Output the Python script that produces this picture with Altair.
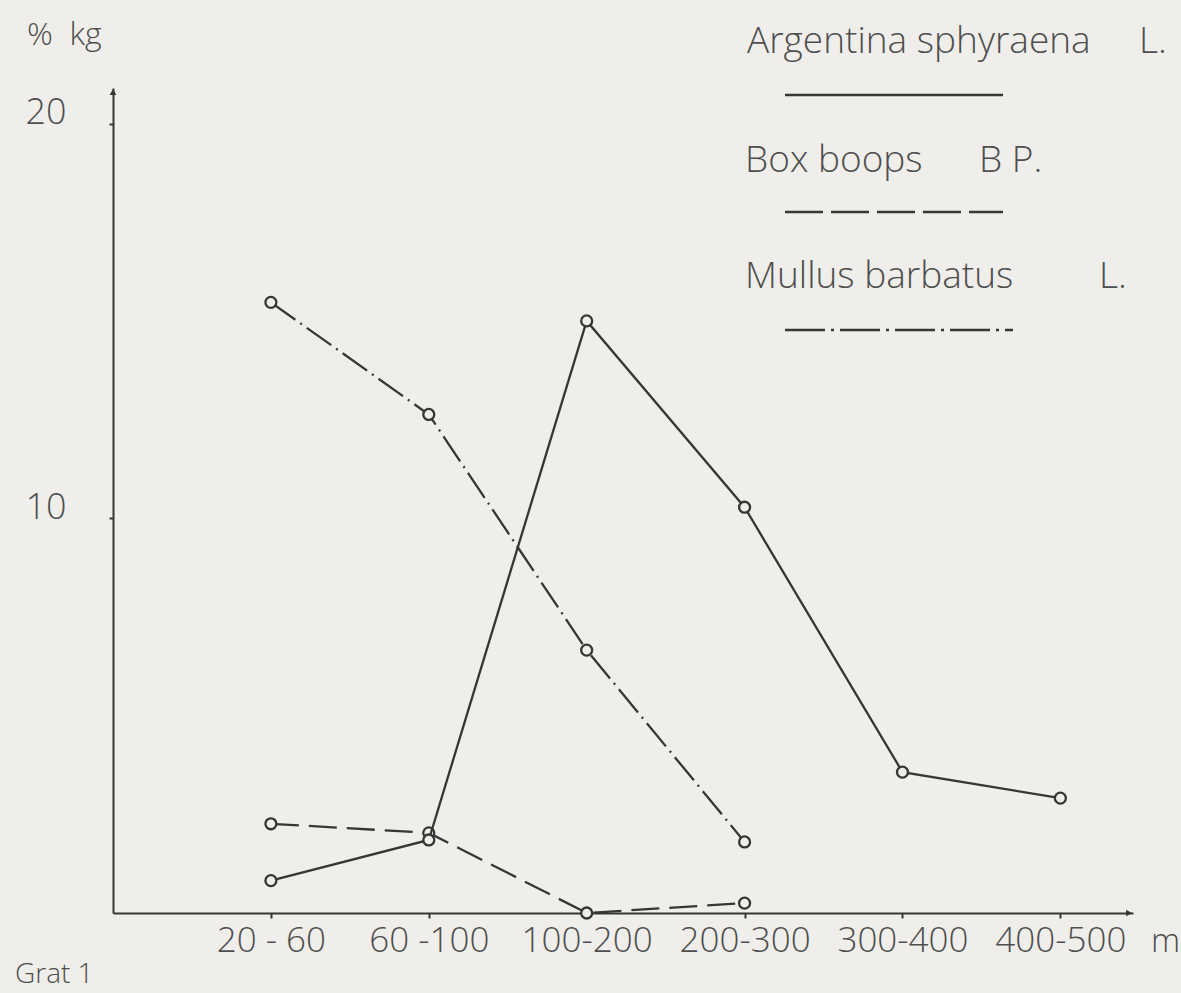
import json
import altair as alt
import pandas as pd

# ---- data ----
depth_labels = ["20 - 60", "60 -100", "100-200", "200-300", "300-400", "400-500"]
depth_pos = [1, 2, 3, 4, 5, 6]

argentina = [0.82, 1.85, 15.0, 10.28, 3.57, 2.91]
box_boops = [2.26, 2.03, 0.0, 0.25]
mullus = [15.47, 12.63, 6.66, 1.80]

NB = "\u00a0"
series_species = ["Argentina sphyraena", "Box boops", "Mullus barbatus"]
series_authors = ["L.", "B P.", "L."]
y_ticks = [10, 20]

BG = "#efeeea"
INK = "#363636"
TXT = "#4e4e4e"
FONT = "Open Sans"


def frame(values, name):
    return pd.DataFrame({
        "pos": depth_pos[:len(values)],
        "depth": depth_labels[:len(values)],
        "value": values,
        "series": name,
    })


df_a = frame(argentina, series_species[0])
df_b = frame(box_boops, series_species[1])
df_m = frame(mullus, series_species[2])

W, H = 1020, 825

label_js = json.dumps([""] + depth_labels)

x_enc = alt.X(
    "pos:Q",
    scale=alt.Scale(domain=[0, 6.46], nice=False, zero=False),
    axis=alt.Axis(
        values=depth_pos, labelExpr=f"{label_js}[datum.value]", title=None,
        grid=False, domain=True, domainColor=INK, domainWidth=2,
        ticks=True, tickSize=5, tickColor=INK, tickWidth=2,
        labelPadding=33, labelBaseline="alphabetic", labelFontSize=35,
        labelFont=FONT, labelFontWeight=300, labelColor=TXT,
        labelOverlap=False, labelFlush=False, labelBound=False,
    ),
)
y_enc = alt.Y(
    "value:Q",
    scale=alt.Scale(domain=[0, 20.9], nice=False),
    axis=alt.Axis(
        values=y_ticks, title=None, grid=False, domain=True, domainColor=INK,
        domainWidth=2, ticks=True, tickSize=4, tickColor=INK, tickWidth=2,
        labelPadding=43, labelBaseline="alphabetic", labelFontSize=36,
        labelFont=FONT, labelFontWeight=300, labelColor=TXT, labelAlign="right",
    ),
)

dashes = {series_species[0]: None, series_species[1]: [28, 10], series_species[2]: [30, 6, 2, 6]}


def series_layers(df, name):
    if dashes[name]:
        line = alt.Chart(df).mark_line(color=INK, strokeWidth=2.3, strokeDash=dashes[name])
    else:
        line = alt.Chart(df).mark_line(color=INK, strokeWidth=2.3)
    line = line.encode(x=x_enc, y=y_enc)
    pts = alt.Chart(df).mark_point(
        shape="circle", size=120, filled=False, fill=BG, fillOpacity=1,
        stroke=INK, strokeWidth=2.3, opacity=1,
    ).encode(x=x_enc, y=y_enc)
    return [line, pts]


layers = []
for df, name in [(df_m, series_species[2]), (df_b, series_species[1]), (df_a, series_species[0])]:
    layers += series_layers(df, name)


def text_layer(txt, px, py, size=33):
    return alt.Chart(pd.DataFrame({"t": [txt]})).mark_text(
        align="left", baseline="alphabetic", font=FONT, fontWeight=300,
        fontSize=size, color=TXT,
    ).encode(text="t:N", x=alt.value(px), y=alt.value(py))


def rule_layer(px1, px2, py, dash):
    kw = dict(color=INK, strokeWidth=2.5)
    if dash:
        kw["strokeDash"] = dash
    return alt.Chart(pd.DataFrame({"a": [0]})).mark_rule(**kw).encode(
        x=alt.value(px1), x2=alt.value(px2), y=alt.value(py)
    )


# legend (pixel offsets relative to plot origin)
# (text baseline, line y, line end x, species x, author x)
legend_rows = [(-35, 7, 890, 634, 1026), (84, 124, 890, 632, 866), (200, 242, 900, 632, 986)]
legend_dash = {series_species[1]: [38, 8], series_species[2]: [40, 6, 3, 6]}
for name, author, (ty, ly, lx2, tx, ax) in zip(series_species, series_authors, legend_rows):
    layers.append(text_layer(name, tx, ty, 37))
    layers.append(text_layer(author, ax, ty, 37))
    layers.append(rule_layer(672, lx2, ly, legend_dash.get(name)))

# unit labels and caption
layers.append(text_layer("m", 1038, 864))
layers.append(text_layer("%" + NB * 2 + "kg", -86, -43, 32))
layers.append(text_layer("Grat 1", -98, 895, 28))

# axis arrowheads
layers.append(
    alt.Chart(pd.DataFrame({"a": [0]})).mark_point(
        shape="triangle-up", size=45, filled=True, color=INK, opacity=1
    ).encode(x=alt.value(0), y=alt.value(4))
)
layers.append(
    alt.Chart(pd.DataFrame({"a": [0]})).mark_point(
        shape="triangle-right", size=45, filled=True, color=INK, opacity=1
    ).encode(x=alt.value(W - 4), y=alt.value(H))
)

chart = alt.layer(*layers).properties(
    width=W, height=H,
    autosize=alt.AutoSizeParams(type="none"),
    padding={"left": 113, "top": 88, "right": 48, "bottom": 80},
    background=BG,
).configure_view(stroke=None)

chart.save("out.html", embed_options={"renderer": "svg", "actions": False})
